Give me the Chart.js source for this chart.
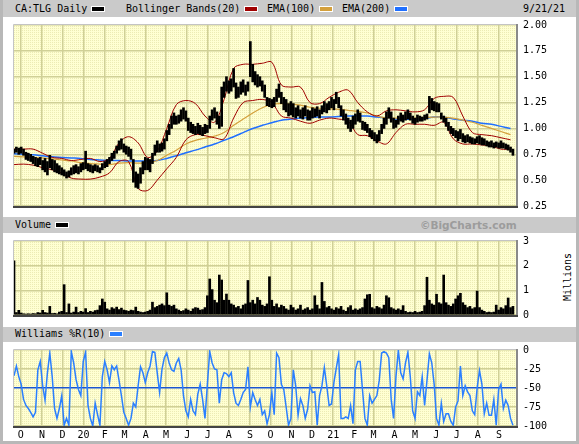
<!DOCTYPE html>
<html>
<head>
<meta charset="utf-8">
<script src="https://cdn.jsdelivr.net/npm/chart.js@4.4.0/dist/chart.umd.min.js"></script>
<style>
body{margin:0;width:579px;height:444px;background:#b8b8b8;position:relative;overflow:hidden;font-family:"DejaVu Sans Mono",monospace;font-size:10px;color:#000}
.band{position:absolute;left:3px;width:573px;background:#cacaca}
.panel{position:absolute;left:3px;width:573px;background:#fff}
.txt{position:absolute;white-space:nowrap;line-height:12px}
.sw{position:absolute;width:12px;height:4px;border:1px solid #fff}
canvas{position:absolute}
</style>
</head>
<body>
<div class="band" style="top:0;height:17px"></div>
<div class="panel" style="top:17px;height:200px"></div>
<div class="band" style="top:217px;height:16px"></div>
<div class="panel" style="top:233px;height:94px"></div>
<div class="band" style="top:327px;height:15px"></div>
<div class="panel" style="top:342px;height:99px"></div>

<div class="txt" style="left:15px;top:3px">CA:TLG Daily</div>
<div class="sw" style="left:91px;top:6px;background:#000"></div>
<div class="txt" style="left:126px;top:3px">Bollinger Bands(20)</div>
<div class="sw" style="left:244px;top:6px;background:#a00000"></div>
<div class="txt" style="left:267px;top:3px">EMA(100)</div>
<div class="sw" style="left:319px;top:6px;background:#d4a03c"></div>
<div class="txt" style="left:342px;top:3px">EMA(200)</div>
<div class="sw" style="left:394px;top:6px;background:#1f6fff"></div>
<div class="txt" style="left:523px;top:3px">9/21/21</div>

<div class="txt" style="left:15px;top:219px">Volume</div>
<div class="sw" style="left:55px;top:222px;background:#000"></div>
<div class="txt" style="left:420px;top:219px;font-family:'DejaVu Sans',sans-serif;font-weight:bold;font-size:10.5px;color:#9c9c9c">©BigCharts.com</div>
<div class="txt" style="left:544px;top:271px;transform:rotate(-90deg)">Millions</div>

<div class="txt" style="left:15px;top:328px">Williams %R(10)</div>
<div class="sw" style="left:109px;top:331px;background:#2a7fff"></div>

<canvas id="price" width="557" height="207" style="left:8px;top:12px"></canvas>
<canvas id="volume" width="557" height="100" style="left:8px;top:228px"></canvas>
<canvas id="wr" width="557" height="105" style="left:8px;top:337px"></canvas>

<script>
// daily chart sampled every 3.5 days from 9/21/19, bands and EMAs every 14 days
var START = Date.UTC(2019, 8, 21);
var DAY = 86400000;
var STEP = 3.5;
var LINE_STEP = 14;

var monthLabels = ['O','N','D','20','F','M','A','M','J','J','A','S',
                   'O','N','D','21','F','M','A','M','J','J','A','S'];

var priceHi = [
  0.80,0.82,0.81,0.82,0.80,0.77,0.76,0.75,0.73,0.72,
  0.71,0.72,0.69,0.71,0.68,0.74,0.70,0.69,0.66,0.64,
  0.62,0.60,0.58,0.59,0.62,0.64,0.65,0.63,0.66,0.67,
  0.78,0.66,0.65,0.64,0.65,0.64,0.62,0.66,0.68,0.70,
  0.72,0.76,0.78,0.83,0.88,0.90,0.85,0.83,0.82,0.80,
  0.70,0.58,0.56,0.62,0.68,0.72,0.71,0.70,0.76,0.84,
  0.88,0.85,0.86,0.90,0.98,1.04,1.12,1.15,1.12,1.13,
  1.18,1.20,1.17,1.10,1.06,1.04,1.02,1.05,1.03,1.01,
  1.04,1.03,1.12,1.18,1.20,1.16,1.12,1.40,1.45,1.50,
  1.46,1.48,1.58,1.44,1.40,1.45,1.47,1.42,1.45,1.84,
  1.62,1.55,1.52,1.50,1.46,1.42,1.30,1.29,1.28,1.30,
  1.38,1.43,1.35,1.30,1.28,1.24,1.26,1.24,1.20,1.22,
  1.18,1.20,1.22,1.18,1.17,1.20,1.19,1.21,1.18,1.22,
  1.26,1.24,1.26,1.30,1.28,1.35,1.30,1.22,1.18,1.14,
  1.10,1.08,1.12,1.14,1.18,1.15,1.07,1.06,1.04,1.00,
  0.98,0.96,0.94,0.98,1.04,1.10,1.16,1.20,1.16,1.10,
  1.08,1.12,1.15,1.13,1.16,1.18,1.15,1.12,1.10,1.13,
  1.12,1.11,1.13,1.14,1.31,1.29,1.26,1.25,1.24,1.15,
  1.12,1.10,1.06,1.02,1.00,0.98,0.97,0.99,0.95,0.93,
  0.94,0.92,0.91,0.90,0.92,0.93,0.91,0.90,0.88,0.87,
  0.88,0.86,0.87,0.86,0.88,0.86,0.85,0.84,0.82,0.80
];
var priceLo = [
  0.76,0.77,0.75,0.76,0.74,0.70,0.69,0.68,0.66,0.64,
  0.63,0.65,0.60,0.58,0.55,0.62,0.60,0.58,0.57,0.56,
  0.55,0.54,0.52,0.53,0.55,0.56,0.57,0.56,0.58,0.60,
  0.61,0.59,0.58,0.57,0.59,0.58,0.57,0.60,0.62,0.63,
  0.66,0.69,0.71,0.76,0.79,0.80,0.77,0.75,0.73,0.70,
  0.48,0.43,0.42,0.47,0.56,0.60,0.60,0.58,0.66,0.74,
  0.77,0.77,0.78,0.80,0.88,0.94,1.00,1.04,1.04,1.05,
  1.07,1.09,1.07,0.98,0.96,0.95,0.94,0.95,0.94,0.93,
  0.95,0.96,1.00,1.08,1.10,1.04,1.00,1.02,1.30,1.36,
  1.34,1.36,1.40,1.29,1.30,1.33,1.35,1.32,1.36,1.50,
  1.45,1.42,1.40,1.41,1.36,1.30,1.22,1.21,1.20,1.21,
  1.26,1.30,1.24,1.18,1.16,1.12,1.13,1.11,1.10,1.12,
  1.10,1.09,1.12,1.08,1.08,1.10,1.11,1.12,1.10,1.14,
  1.16,1.15,1.18,1.20,1.18,1.24,1.20,1.12,1.08,1.04,
  1.00,0.97,1.00,1.04,1.07,1.06,0.99,0.98,0.96,0.92,
  0.90,0.88,0.86,0.88,0.95,1.00,1.04,1.10,1.06,1.00,
  1.01,1.04,1.07,1.06,1.08,1.09,1.08,1.05,1.04,1.06,
  1.07,1.07,1.08,1.09,1.15,1.18,1.17,1.16,1.16,1.09,
  1.06,1.02,0.98,0.95,0.93,0.91,0.88,0.90,0.87,0.86,
  0.87,0.86,0.85,0.85,0.86,0.85,0.84,0.84,0.83,0.82,
  0.82,0.81,0.82,0.81,0.81,0.81,0.80,0.79,0.77,0.74
];

var bandUpper = [
  0.80,0.80,0.80,0.76,0.72,0.71,0.69,0.70,0.71,0.68,
  0.71,0.86,0.92,0.86,0.72,0.78,1.00,1.23,1.27,1.24,
  1.12,1.06,1.28,1.58,1.62,1.62,1.63,1.64,1.42,1.40,
  1.40,1.25,1.24,1.30,1.35,1.37,1.25,1.16,1.12,1.17,
  1.18,1.17,1.16,1.18,1.29,1.31,1.30,1.12,0.96,0.94,
  0.93,0.91,0.89
];
var bandLower = [
  0.65,0.655,0.645,0.62,0.60,0.57,0.52,0.51,0.51,0.53,
  0.57,0.68,0.68,0.42,0.40,0.50,0.61,0.72,0.89,0.94,
  0.93,0.91,0.90,1.10,1.25,1.27,1.28,1.25,1.12,1.10,
  1.07,1.05,1.08,1.10,1.09,1.07,0.94,0.93,0.88,0.85,
  0.96,1.04,1.04,1.04,1.03,1.06,0.90,0.85,0.85,0.84,
  0.83,0.80,0.80
];
var ema100 = [
  0.73,0.725,0.72,0.715,0.705,0.695,0.685,0.67,0.66,0.655,
  0.65,0.665,0.67,0.665,0.67,0.69,0.74,0.79,0.85,0.885,
  0.905,0.925,0.96,1.03,1.09,1.15,1.20,1.235,1.24,1.235,
  1.225,1.205,1.195,1.19,1.185,1.175,1.165,1.15,1.12,1.10,
  1.10,1.10,1.10,1.105,1.11,1.11,1.10,1.08,1.06,1.03,
  1.00,0.97,0.94
];
var ema200 = [
  0.756,0.75,0.745,0.735,0.725,0.72,0.715,0.71,0.70,0.695,
  0.69,0.69,0.685,0.685,0.685,0.69,0.71,0.735,0.765,0.79,
  0.82,0.85,0.885,0.92,0.96,1.00,1.03,1.055,1.08,1.09,
  1.10,1.105,1.11,1.11,1.115,1.12,1.12,1.12,1.11,1.10,
  1.09,1.09,1.09,1.095,1.11,1.11,1.09,1.08,1.07,1.05,
  1.04,1.02,1.00
];

// millions of shares
var volume = [
  2.2,0.1,0.19,0.08,0.05,0.04,0.05,0.04,0.06,0.05,
  0.1,0.08,0.19,0.1,0.08,0.35,0.06,0.07,0.05,0.12,
  0.15,1.23,0.1,0.45,0.08,0.12,0.32,0.1,0.15,0.12,
  0.26,0.1,0.15,0.12,0.18,0.2,0.38,0.65,0.52,0.25,
  0.2,0.3,0.25,0.32,0.22,0.28,0.2,0.18,0.15,0.2,
  0.18,0.32,0.15,0.12,0.1,0.12,0.15,0.2,0.52,0.3,
  0.35,0.4,0.45,0.38,0.9,0.4,0.35,0.4,0.25,0.2,
  0.15,0.18,0.25,0.2,0.15,0.25,0.3,0.28,0.2,0.22,
  0.3,0.78,1.46,1.03,0.6,0.5,1.62,1.42,0.6,0.85,
  0.6,0.45,0.4,0.3,0.35,0.25,0.4,0.45,1.4,0.5,
  0.6,0.45,0.71,0.6,0.4,0.35,0.45,1.55,0.6,0.35,
  0.45,0.3,0.4,0.35,0.25,0.2,0.4,0.3,0.2,0.25,
  0.4,0.2,0.25,0.3,0.2,0.25,0.78,0.4,0.25,1.32,
  0.55,0.3,0.35,0.25,0.2,0.3,0.25,0.35,0.2,0.15,
  0.3,0.38,0.2,0.25,0.2,0.25,0.3,0.65,0.82,0.84,
  0.3,0.25,0.35,0.3,0.25,0.4,0.78,0.7,0.3,0.25,
  0.2,0.25,0.2,0.38,0.15,0.1,0.12,0.1,0.15,0.1,
  0.12,0.15,0.38,1.53,0.6,0.45,0.4,0.84,0.5,0.45,
  1.62,0.5,0.4,0.35,0.45,0.65,0.78,0.88,0.5,0.4,
  0.3,0.35,0.25,0.3,0.97,0.3,0.2,0.15,0.1,0.12,
  0.1,0.12,0.4,0.2,0.3,0.25,0.38,0.69,0.3,0.35
];

var williamsR = [
  -34,-21,-35,-45,-65,-73,-77,-82,-88,-82,
  -26,-15,-47,-66,-30,-4,-35,-77,-90,-77,
  -60,-99,-90,-99,-2,-17,-39,-52,-60,-15,
  -3,-73,-90,-100,-70,-85,-99,-35,-15,-26,
  -43,-21,-26,-21,-40,-60,-82,-90,-99,-90,
  -70,-75,-47,-22,-30,-43,-30,-21,-2,-3,
  -30,-56,-25,-10,-4,-17,-26,-28,-17,-11,
  -26,-60,-80,-88,-65,-80,-85,-58,-45,-65,
  -90,-45,-2,-17,-25,-26,-70,-39,-30,-31,
  -35,-30,-56,-70,-73,-65,-56,-52,-22,-75,
  -56,-65,-73,-65,-85,-80,-97,-85,-56,-85,
  -4,-10,-45,-52,-75,-99,-90,-26,-47,-86,
  -64,-73,-90,-78,-47,-56,-55,-99,-60,-47,
  -23,-47,-73,-71,-43,-24,-6,-90,-90,-88,
  -90,-73,-97,-26,-15,-15,-53,-90,-99,-60,
  -70,-65,-60,-40,-4,-2,-4,-10,-65,-90,
  -35,0,-30,-38,-17,-3,-35,-80,-90,-55,
  -60,-35,-73,-40,-5,-17,-45,-90,-99,-70,
  -94,-84,-84,-94,-99,-75,-67,-21,-60,-47,
  -55,-60,-80,-85,-50,-27,-45,-84,-70,-86,
  -86,-65,-99,-52,-45,-77,-66,-73,-90,-99
];
var wrMid = -50;

var X_MAX = 736;
var monthStarts = monthLabels.map(function (l, k) {
  return (Date.UTC(2019, 9 + k, 1) - START) / DAY;
});

var FONT = { family: 'DejaVu Sans Mono', size: 10 };
var GRID = '#d0d096';

// pale yellow dotted plot background
var pc = document.createElement('canvas');
pc.width = 2; pc.height = 2;
var pctx = pc.getContext('2d');
pctx.fillStyle = '#ffffd2'; pctx.fillRect(0, 0, 2, 2);
pctx.fillStyle = '#ecebb4'; pctx.fillRect(0, 0, 1, 1);

var frame = {
  id: 'frame',
  beforeDraw: function (chart) {
    var a = chart.chartArea, ctx = chart.ctx;
    ctx.save();
    ctx.fillStyle = ctx.createPattern(pc, 'repeat');
    ctx.fillRect(a.left, a.top, a.right - a.left, a.bottom - a.top);
    ctx.restore();
  },
  afterDraw: function (chart) {
    var a = chart.chartArea, ctx = chart.ctx;
    ctx.save();
    ctx.strokeStyle = '#c4c4c4'; ctx.lineWidth = 1;
    ctx.beginPath();
    ctx.moveTo(a.left - 0.5, a.bottom); ctx.lineTo(a.left - 0.5, a.top - 0.5); ctx.lineTo(a.right, a.top - 0.5);
    ctx.stroke();
    ctx.strokeStyle = '#8a8a8a'; ctx.lineWidth = 2;
    ctx.beginPath(); ctx.moveTo(a.right + 1, a.top - 1); ctx.lineTo(a.right + 1, a.bottom + 2); ctx.stroke();
    ctx.strokeStyle = '#444';
    ctx.beginPath(); ctx.moveTo(a.left - 1, a.bottom + 1); ctx.lineTo(a.right + 2, a.bottom + 1); ctx.stroke();
    ctx.restore();
  }
};

function xAxis(showLabels) {
  return {
    type: 'linear', min: 0, max: X_MAX, offset: false,
    afterBuildTicks: function (s) { s.ticks = monthStarts.map(function (v) { return { value: v }; }); },
    afterFit: function (s) { s.height = showLabels ? 16 : 0; },
    grid: { color: GRID, lineWidth: 1.5, drawTicks: false, offset: false },
    border: { display: false },
    ticks: {
      display: showLabels, autoSkip: false, maxRotation: 0, padding: 3,
      color: '#000', font: FONT,
      callback: function (v, i) { return monthLabels[i]; }
    }
  };
}

function yAxis(min, max, step, fmt) {
  return {
    position: 'right', min: min, max: max,
    afterFit: function (s) { s.width = 49; },
    grid: { color: GRID, lineWidth: 1.5, drawTicks: false },
    border: { display: false },
    ticks: { stepSize: step, padding: 7, color: '#000', font: FONT, callback: fmt }
  };
}

function points(arr, step) {
  return arr.map(function (v, k) { return { x: k * step, y: v }; });
}

function lineSet(arr, color, width, order) {
  return {
    type: 'line', data: points(arr, LINE_STEP), borderColor: color, borderWidth: width,
    pointRadius: 0, tension: 0.35, order: order
  };
}

var common = {
  animation: false, responsive: false, devicePixelRatio: 1,
  layout: { padding: { left: 6, top: 0, bottom: 0, right: 0 } },
  plugins: { legend: { display: false }, tooltip: { enabled: false } }
};

new Chart(document.getElementById('price'), {
  type: 'bar',
  data: {
    datasets: [
      {
        data: priceHi.map(function (h, k) { return { x: k * STEP, y: [priceLo[k], h] }; }),
        backgroundColor: '#000', barThickness: 2, order: 0
      },
      lineSet(bandUpper, '#a00000', 1, 1),
      lineSet(bandLower, '#a00000', 1, 2),
      lineSet(ema100, '#d4a03c', 1.2, 3),
      lineSet(ema200, '#1f6fff', 1.5, 4)
    ]
  },
  options: Object.assign({}, common, {
    scales: {
      x: xAxis(false),
      y: yAxis(0.25, 2, 0.25, function (v) { return v.toFixed(2); })
    }
  }),
  plugins: [frame]
});

new Chart(document.getElementById('volume'), {
  type: 'bar',
  data: {
    datasets: [{
      data: points(volume, STEP), backgroundColor: '#000', barThickness: 2
    }]
  },
  options: Object.assign({}, common, {
    scales: {
      x: xAxis(false),
      y: yAxis(0, 3, 1, function (v) { return v; })
    }
  }),
  plugins: [frame]
});

var wrY = yAxis(-100, 0, 25, function (v) { return v; });
wrY.grid.color = function (c) { return c.tick && c.tick.value === wrMid ? '#1a55d0' : GRID; };
wrY.grid.lineWidth = function (c) { return c.tick && c.tick.value === wrMid ? 1.5 : 1.5; };

new Chart(document.getElementById('wr'), {
  type: 'line',
  data: {
    datasets: [{
      data: points(williamsR, STEP), borderColor: '#2a7fff', borderWidth: 1.5,
      pointRadius: 0, tension: 0
    }]
  },
  options: Object.assign({}, common, {
    scales: {
      x: xAxis(true),
      y: wrY
    }
  }),
  plugins: [frame]
});
</script>
</body>
</html>
